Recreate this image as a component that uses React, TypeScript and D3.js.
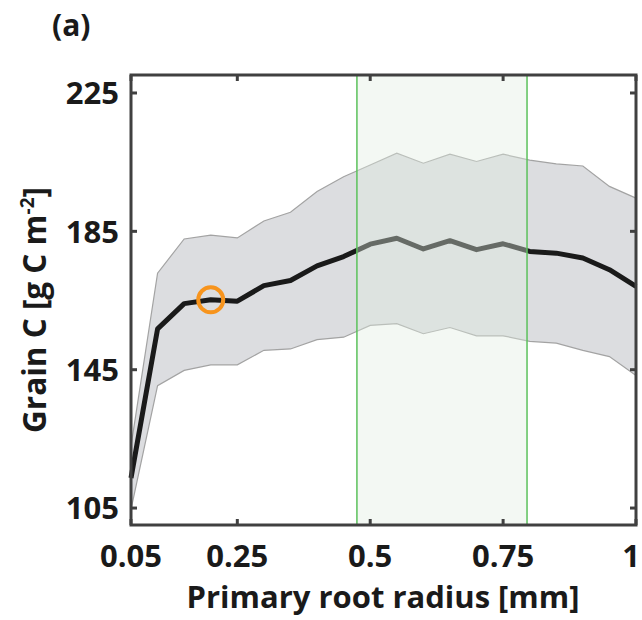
import React, { useEffect, useRef } from "react";
import * as d3 from "d3";

// primary root radius [mm]
const radius = [0.05, 0.1, 0.15, 0.2, 0.25, 0.3, 0.35, 0.4, 0.45, 0.5, 0.55, 0.6, 0.65, 0.7, 0.75, 0.8, 0.85, 0.9, 0.95, 1];
// grain C [g C m-2]
const meanC = [113.7, 156.8, 164.1, 165.2, 164.8, 169.3, 170.8, 175, 177.7, 181.3, 183, 179.9, 182.3, 179.7, 181.4, 179.2, 178.7, 177.3, 173.9, 169.1];
const upperC = [122.9, 172.9, 182.8, 183.9, 183.1, 188, 190.5, 196.5, 200.8, 204.2, 207.6, 204.7, 207.3, 205.2, 207.3, 205.6, 204.5, 203.9, 198, 194.6];
const lowerC = [104.6, 140.4, 144.8, 146.4, 146.4, 150.6, 151, 153.7, 154.4, 157.8, 158.3, 155.4, 157.2, 154.8, 154.8, 153.2, 152.7, 150.6, 148.8, 143.3];

const xTicks = [0.05, 0.25, 0.5, 0.75, 1];
const xTickLabels = ["0.05", "0.25", "0.5", "0.75", "1"];
const yTicks = [105, 145, 185, 225];

const marked = [0.2, 165.2];
const greenBand = [0.475, 0.795];

const font = "'Open Sans', sans-serif";

function App() {
  const ref = useRef<SVGSVGElement>(null);

  useEffect(() => {
    const svg = d3.select(ref.current);
    svg.selectAll("*").remove();

    const left = 131, right = 636, top = 75, bottom = 525;
    const x = d3.scaleLinear().domain([0.05, 1]).range([left, right]);
    const y = d3.scaleLinear().domain([100.1, 230.2]).range([bottom, top]);

    const rows = radius.map((r, i) => ({ r, m: meanC[i], hi: upperC[i], lo: lowerC[i] }));

    // spread band
    const area = d3.area<any>().x((d) => x(d.r)).y0((d) => y(d.lo)).y1((d) => y(d.hi));
    svg.append("path").datum(rows).attr("d", area).attr("fill", "#dcdde0");
    const edge = (k: string) => d3.line<any>().x((d) => x(d.r)).y((d) => y(d[k]));
    ["hi", "lo"].forEach((k) => {
      svg.append("path").datum(rows).attr("d", edge(k))
        .attr("fill", "none").attr("stroke", "#a3a3a3").attr("stroke-width", 1.2);
    });

    // mean line
    svg.append("path").datum(rows).attr("d", edge("m"))
      .attr("fill", "none").attr("stroke", "#1a1a1a").attr("stroke-width", 5)
      .attr("stroke-linejoin", "round");

    svg.append("circle")
      .attr("cx", x(marked[0])).attr("cy", y(marked[1])).attr("r", 12.5)
      .attr("fill", "none").attr("stroke", "#f7941d").attr("stroke-width", 4);

    // highlighted radius range
    svg.append("rect")
      .attr("x", x(greenBand[0])).attr("y", top)
      .attr("width", x(greenBand[1]) - x(greenBand[0])).attr("height", bottom - top)
      .attr("fill", "rgb(224,237,224)").attr("fill-opacity", 0.39)
      .attr("stroke", "#5cc15c").attr("stroke-width", 1.5);

    // axes box + inward ticks
    const ax = svg.append("g").attr("stroke", "#404040").attr("stroke-width", 3);
    ax.append("rect").attr("x", left).attr("y", top).attr("width", right - left).attr("height", bottom - top)
      .attr("fill", "none");
    xTicks.forEach((t) => {
      ax.append("line").attr("x1", x(t)).attr("x2", x(t)).attr("y1", bottom).attr("y2", bottom - 6);
      ax.append("line").attr("x1", x(t)).attr("x2", x(t)).attr("y1", top).attr("y2", top + 6);
    });
    yTicks.forEach((t) => {
      ax.append("line").attr("x1", left).attr("x2", left + 6).attr("y1", y(t)).attr("y2", y(t));
      ax.append("line").attr("x1", right).attr("x2", right - 6).attr("y1", y(t)).attr("y2", y(t));
    });

    const txt = svg.append("g").attr("font-family", font).attr("font-weight", 700).attr("fill", "#1a1a1a");
    xTicks.forEach((t, i) => {
      const last = i === xTicks.length - 1;
      txt.append("text").attr("x", last ? 640 : x(t)).attr("y", 567)
        .attr("text-anchor", last ? "end" : "middle")
        .attr("font-size", 31).text(xTickLabels[i]);
    });
    yTicks.forEach((t) => {
      txt.append("text").attr("x", 119).attr("y", y(t)).attr("dy", "0.36em").attr("text-anchor", "end")
        .attr("font-size", 31).text(String(t));
    });

    txt.append("text").attr("x", 383).attr("y", 608).attr("text-anchor", "middle")
      .attr("font-size", 31).text("Primary root radius [mm]");

    const yl = txt.append("text").attr("transform", "translate(46,310) rotate(-90)")
      .attr("text-anchor", "middle").attr("font-size", 31.5);
    yl.append("tspan").text("Grain C [g C m");
    yl.append("tspan").attr("dy", -12).attr("font-size", 19).text("-2");
    yl.append("tspan").attr("dy", 12).text("]");

    txt.append("text").attr("x", 52).attr("y", 36).attr("font-size", 30).text("(a)");
  }, []);

  return (
    <div>
      <style>{`body{margin:0}`}</style>
      <svg ref={ref} width={642} height={620} style={{ display: "block", background: "#fff" }} />
    </div>
  );
}

export default App;
